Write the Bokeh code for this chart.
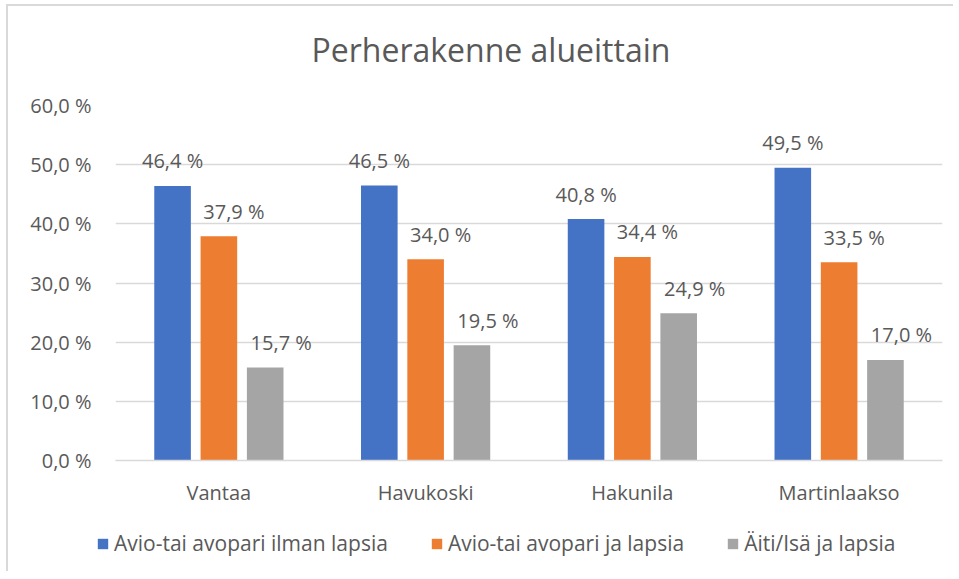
from bokeh.plotting import figure
from bokeh.models import FactorRange, Range1d, FixedTicker, Legend, LegendItem, ColumnDataSource, Title
from bokeh.layouts import column
from bokeh.transform import dodge
from bokeh.core.properties import value
from bokeh.embed import file_html
from bokeh.resources import INLINE

# ---- data ----
areas = ["Vantaa", "Havukoski", "Hakunila", "Martinlaakso"]
series_names = ["Avio-tai avopari ilman lapsia", "Avio-tai avopari ja lapsia", "Äiti/Isä ja lapsia"]
ilman_lapsia = [46.4, 46.5, 40.8, 49.5]
ja_lapsia = [37.9, 34.0, 34.4, 33.5]
aiti_isa = [15.7, 19.5, 24.9, 17.0]
y_ticks = [0, 10, 20, 30, 40, 50, 60]
y_tick_labels = ["0,0 %", "10,0 %", "20,0 %", "30,0 %", "40,0 %", "50,0 %", "60,0 %"]
title_text = "Perherakenne alueittain"

colors = ["#4472C4", "#ED7D31", "#A5A5A5"]
FONT = "Open Sans"
TXT = "#595959"
GRID = "#D9D9D9"


def fmt(v):
    return f"{v:.1f}".replace(".", ",") + " %"


W = 945
p = figure(
    x_range=FactorRange(*areas),
    y_range=Range1d(0, 60),
    width=W, height=505,
    output_backend="svg", toolbar_location=None,
    min_border_left=107, min_border_right=11, min_border_top=99, min_border_bottom=51,
)
p.frame_align = False
p.background_fill_color = "white"
p.border_fill_color = "white"
p.outline_line_color = None
p.title.text = ""
p.title.standoff = 0

# spacer between title and plot frame (closest to frame)
spacer = Title(text=" ", text_font_size="1px", standoff=9)
p.add_layout(spacer, "above")
# real title (outer)
main_title = Title(text=title_text, text_font=FONT, text_font_size="32px",
                   text_font_style="normal", text_color=TXT,
                   align="left", offset=196, vertical_align="top", standoff=41)
p.add_layout(main_title, "above")

step = 0.224
bar_w = 0.177
all_vals = [ilman_lapsia, ja_lapsia, aiti_isa]
offsets = [-step, 0.0, step]
label_dx = [0, 15, 16]

for vals, off, col, dx in zip(all_vals, offsets, colors, label_dx):
    src = ColumnDataSource(dict(area=areas, v=vals, lab=[fmt(v) for v in vals]))
    p.vbar(x=dodge("area", off, range=p.x_range), top="v", width=bar_w, source=src,
           fill_color=col, line_color=None)
    p.text(x=dodge("area", off, range=p.x_range), y="v", text="lab", source=src,
           x_offset=dx, y_offset=-25, text_align="center", text_baseline="middle",
           text_font=value(FONT), text_font_size=value("20px"), text_color=TXT)

# axes
p.yaxis.ticker = FixedTicker(ticks=y_ticks)
p.yaxis.major_label_overrides = {t: l for t, l in zip(y_ticks, y_tick_labels)}
p.yaxis.axis_line_color = None
p.yaxis.major_tick_line_color = None
p.yaxis.minor_tick_line_color = None
p.yaxis.major_tick_out = 0
p.yaxis.major_tick_in = 0
p.yaxis.major_label_standoff = 24
p.yaxis.major_label_text_font = FONT
p.yaxis.major_label_text_font_size = "20px"
p.yaxis.major_label_text_color = TXT

p.xaxis.axis_line_color = GRID
p.xaxis.axis_line_width = 1.5
p.xaxis.major_tick_line_color = None
p.xaxis.minor_tick_line_color = None
p.xaxis.major_tick_out = 0
p.xaxis.major_tick_in = 0
p.xaxis.major_label_standoff = 18
p.xaxis.major_label_text_font = FONT
p.xaxis.major_label_text_font_size = "20px"
p.xaxis.major_label_text_color = TXT

p.xgrid.grid_line_color = None
p.ygrid.grid_line_color = GRID
p.ygrid.grid_line_width = 1.5

# ---- legend strip ----
q = figure(width=W, height=60, x_range=Range1d(0, 1), y_range=Range1d(0, 1),
           output_backend="svg", toolbar_location=None,
           x_axis_type=None, y_axis_type=None,
           min_border_left=0, min_border_right=0, min_border_top=0, min_border_bottom=0)
q.frame_align = False
q.grid.visible = False
q.outline_line_color = None
q.background_fill_color = "white"
q.border_fill_color = "white"

items = []
for col, name in zip(colors, series_names):
    # legend-only renderer: one bar placed outside the visible range
    hidden = ColumnDataSource(dict(x=[5.0], top=[1.0]))
    r = q.vbar(x="x", top="top", width=0.1, source=hidden, fill_color=col, line_color=None)
    items.append(LegendItem(label=name, renderers=[r]))

legend = Legend(items=items, orientation="horizontal", location=(88, 14))
legend.glyph_width = 13
legend.glyph_height = 13
legend.label_standoff = 5
legend.spacing = 42
legend.padding = 0
legend.margin = 0
legend.border_line_color = None
legend.background_fill_alpha = 0
legend.label_text_font = FONT
legend.label_text_font_size = "21px"
legend.label_text_color = TXT
q.add_layout(legend)

layout = column(p, q, spacing=0)
layout.styles = {"margin-left": "6px", "margin-top": "4px",
                 "border-top": "2px solid #D9D9D9", "border-left": "2px solid #D9D9D9"}

open("out.html", "w").write(file_html(layout, INLINE))
